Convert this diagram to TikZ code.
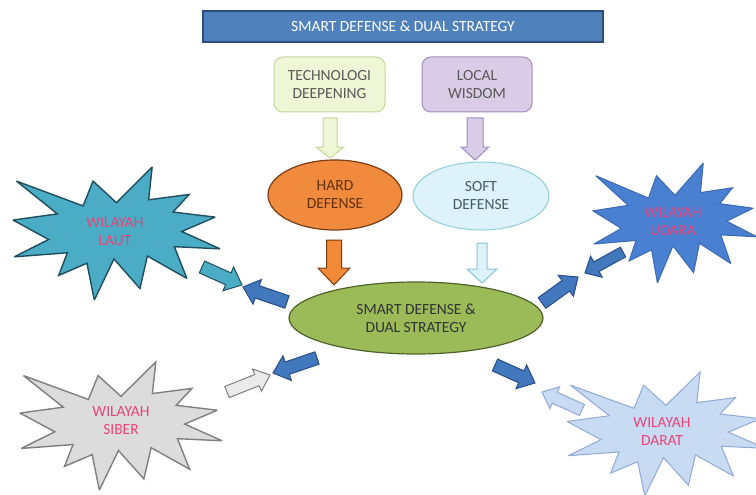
\documentclass[tikz,border=0pt]{standalone}
\usepackage{fontspec}
\setmainfont{Carlito}
\usetikzlibrary{calc,shapes.geometric}
\definecolor{titlefill}{HTML}{4F81BD}
\definecolor{titledraw}{HTML}{2C4D7A}
\definecolor{techfill}{HTML}{EEF6D6}
\definecolor{techdraw}{HTML}{C3D69B}
\definecolor{locfill}{HTML}{D9CCE6}
\definecolor{locdraw}{HTML}{A08DBF}
\definecolor{hardfill}{HTML}{F08A3C}
\definecolor{harddraw}{HTML}{7A3C12}
\definecolor{softfill}{HTML}{DDF2FA}
\definecolor{softdraw}{HTML}{93CDDD}
\definecolor{smartfill}{HTML}{9BBB59}
\definecolor{smartdraw}{HTML}{4F6228}
\definecolor{bluefill}{HTML}{4278BE}
\definecolor{bluedraw}{HTML}{284C85}
\definecolor{tealfill}{HTML}{4BACC6}
\definecolor{tealdraw}{HTML}{1F4E5F}
\definecolor{skyfill}{HTML}{4A80D2}
\definecolor{skydraw}{HTML}{3A6AB0}
\definecolor{grayfill}{HTML}{DCDCDC}
\definecolor{graydraw}{HTML}{7F7F7F}
\definecolor{palefill}{HTML}{C9DBF2}
\definecolor{paledraw}{HTML}{8FAAD6}
\definecolor{startext}{HTML}{E8457A}
\newcommand\blockarr[6]{%
  \coordinate (bac) at ($(#3)!#6!(#2)$);
  \draw[#1] ($(#2)!#4!90:(#3)$) -- ($(bac)!#4!90:(#3)$) -- ($(bac)!#5!90:(#3)$) -- (#3)
    -- ($(bac)!#5!-90:(#3)$) -- ($(bac)!#4!-90:(#3)$) -- ($(#2)!#4!-90:(#3)$) -- cycle;}
\newcommand\explosion[5]{%
  \begin{scope}[shift={(#1,#2)},xscale=#3/216,yscale=#4/216]
  \draw[#5] (108,58) -- (145.22,0) -- (141.55,53.25) -- (183.80,44.57) -- (167.02,73.15)
    -- (210.97,81.37) -- (176.07,104.75) -- (216,132.90) -- (168.37,129.42) -- (181.45,180.95)
    -- (140.20,144.57) -- (132.47,197.37) -- (105.32,149.35) -- (84.85,216) -- (77.15,156.27)
    -- (47.62,176.17) -- (56.67,139.37) -- (1.35,145.87) -- (37.22,117.75) -- (0,86.15)
    -- (46.27,76.17) -- (3.70,22.95) -- (73.12,63.20) -- (83.52,22.95) -- cycle;
  \end{scope}}
\tikzset{
  txt/.style={font=\fontsize{15.5}{18}\selectfont, align=center},
  startxt/.style={txt, text=startext},
  star/.style={line width=1.4pt, line join=miter, miter limit=3},
  arr/.style={line width=1pt, line join=miter},
}
\begin{document}
\begin{tikzpicture}[x=1pt,y=-1pt]
\useasboundingbox[fill=white] (0,0) rectangle (756,495);

% stars
\explosion{13}{167}{207}{133}{star, fill=tealfill, draw=tealdraw}
\explosion{593}{163}{164}{120}{star, fill=skyfill, draw=skydraw, line width=1pt}
\explosion{20}{362}{202}{128}{star, fill=grayfill, draw=graydraw}
\explosion{567}{372}{198}{124}{star, fill=palefill, draw=paledraw, line width=1pt}
\node[startxt] (laut) at (115,232) {WILAYAH\\LAUT};
\node[startxt] (udara) at (673,222) {WILAYAH\\UDARA};
\node[startxt] (siber) at (121,421) {WILAYAH\\SIBER};
\node[startxt] (darat) at (662,432) {WILAYAH\\DARAT};

% title
\node[txt, text=white, fill=titlefill, draw=titledraw, line width=1.2pt,
  minimum width=400pt, minimum height=31pt, inner sep=0pt] (title) at (403,26.5)
  {SMART DEFENSE \& DUAL STRATEGY};

% boxes
\node[txt, text=black!65, fill=techfill, draw=techdraw, line width=1pt, rounded corners=9pt,
  minimum width=111pt, minimum height=55pt, inner sep=0pt] (tech) at (329.5,84.5)
  {TECHNOLOGI\\DEEPENING};
\node[txt, text=black!65, fill=locfill, draw=locdraw, line width=1pt, rounded corners=9pt,
  minimum width=110pt, minimum height=55pt, inner sep=0pt] (local) at (477,84.5)
  {LOCAL\\WISDOM};

% ellipses
\node[txt, ellipse, text=harddraw!80!black, fill=hardfill, draw=harddraw, line width=1.2pt,
  minimum width=134pt, minimum height=70pt, inner sep=0pt] (hard) at (335,195)
  {HARD\\DEFENSE};
\node[txt, ellipse, text=black!55!softdraw, fill=softfill, draw=softdraw, line width=1pt,
  minimum width=136pt, minimum height=68pt, inner sep=0pt] (soft) at (481,196)
  {SOFT\\DEFENSE};
\node[txt, ellipse, text=black!80, fill=smartfill, draw=smartdraw, line width=1.2pt,
  minimum width=254pt, minimum height=72pt, inner sep=0pt] (smart) at (416,318)
  {SMART DEFENSE \&\\DUAL STRATEGY};

% arrow end points
\coordinate (g1) at (330,118);   \coordinate (g2) at (330,158);
\coordinate (p1) at (475,118);   \coordinate (p2) at (475,160);
\coordinate (o1) at (334,240);   \coordinate (o2) at (334,285);
\coordinate (s1) at (482,243);   \coordinate (s2) at (482,283);
\coordinate (t1) at (202,267);   \coordinate (t2) at (242,285);
\coordinate (b1) at (287,302);   \coordinate (b2) at (243,287);
\coordinate (b3) at (542,303);   \coordinate (b4) at (578,277);
\coordinate (u1) at (623,252);   \coordinate (u2) at (585,273);
\coordinate (b5) at (317,358);   \coordinate (b6) at (273,373);
\coordinate (c1) at (227,392);   \coordinate (c2) at (270,375);
\coordinate (b7) at (495,365);   \coordinate (b8) at (535,383);
\coordinate (d1) at (582,410);   \coordinate (d2) at (542,392);

% vertical arrows
\blockarr{arr, fill=techfill, draw=techdraw}{g1}{g2}{7pt}{14pt}{11pt}
\blockarr{arr, fill=locfill, draw=locdraw}{p1}{p2}{8pt}{14pt}{13pt}
\blockarr{arr, fill=hardfill!90!orange, draw=harddraw}{o1}{o2}{7.5pt}{16pt}{17pt}
\blockarr{arr, fill=softfill, draw=softdraw!80!tealfill}{s1}{s2}{5pt}{15pt}{14pt}

% side arrows
\blockarr{arr, fill=tealfill, draw=tealdraw}{t1}{t2}{6.5pt}{13pt}{15pt}
\blockarr{arr, fill=bluefill, draw=bluedraw}{b1}{b2}{6.5pt}{13pt}{15pt}
\blockarr{arr, fill=bluefill, draw=bluedraw}{b3}{b4}{6.5pt}{13pt}{15pt}
\blockarr{arr, fill=bluefill, draw=bluedraw}{u1}{u2}{5.5pt}{12pt}{13pt}
\blockarr{arr, fill=bluefill, draw=bluedraw}{b5}{b6}{6.5pt}{13pt}{15pt}
\blockarr{arr, fill=grayfill!60!white, draw=graydraw}{c1}{c2}{6pt}{12pt}{14pt}
\blockarr{arr, fill=bluefill, draw=bluedraw}{b7}{b8}{6.5pt}{13pt}{15pt}
\blockarr{arr, fill=palefill, draw=paledraw}{d1}{d2}{6pt}{12pt}{14pt}
\end{tikzpicture}
\end{document}
